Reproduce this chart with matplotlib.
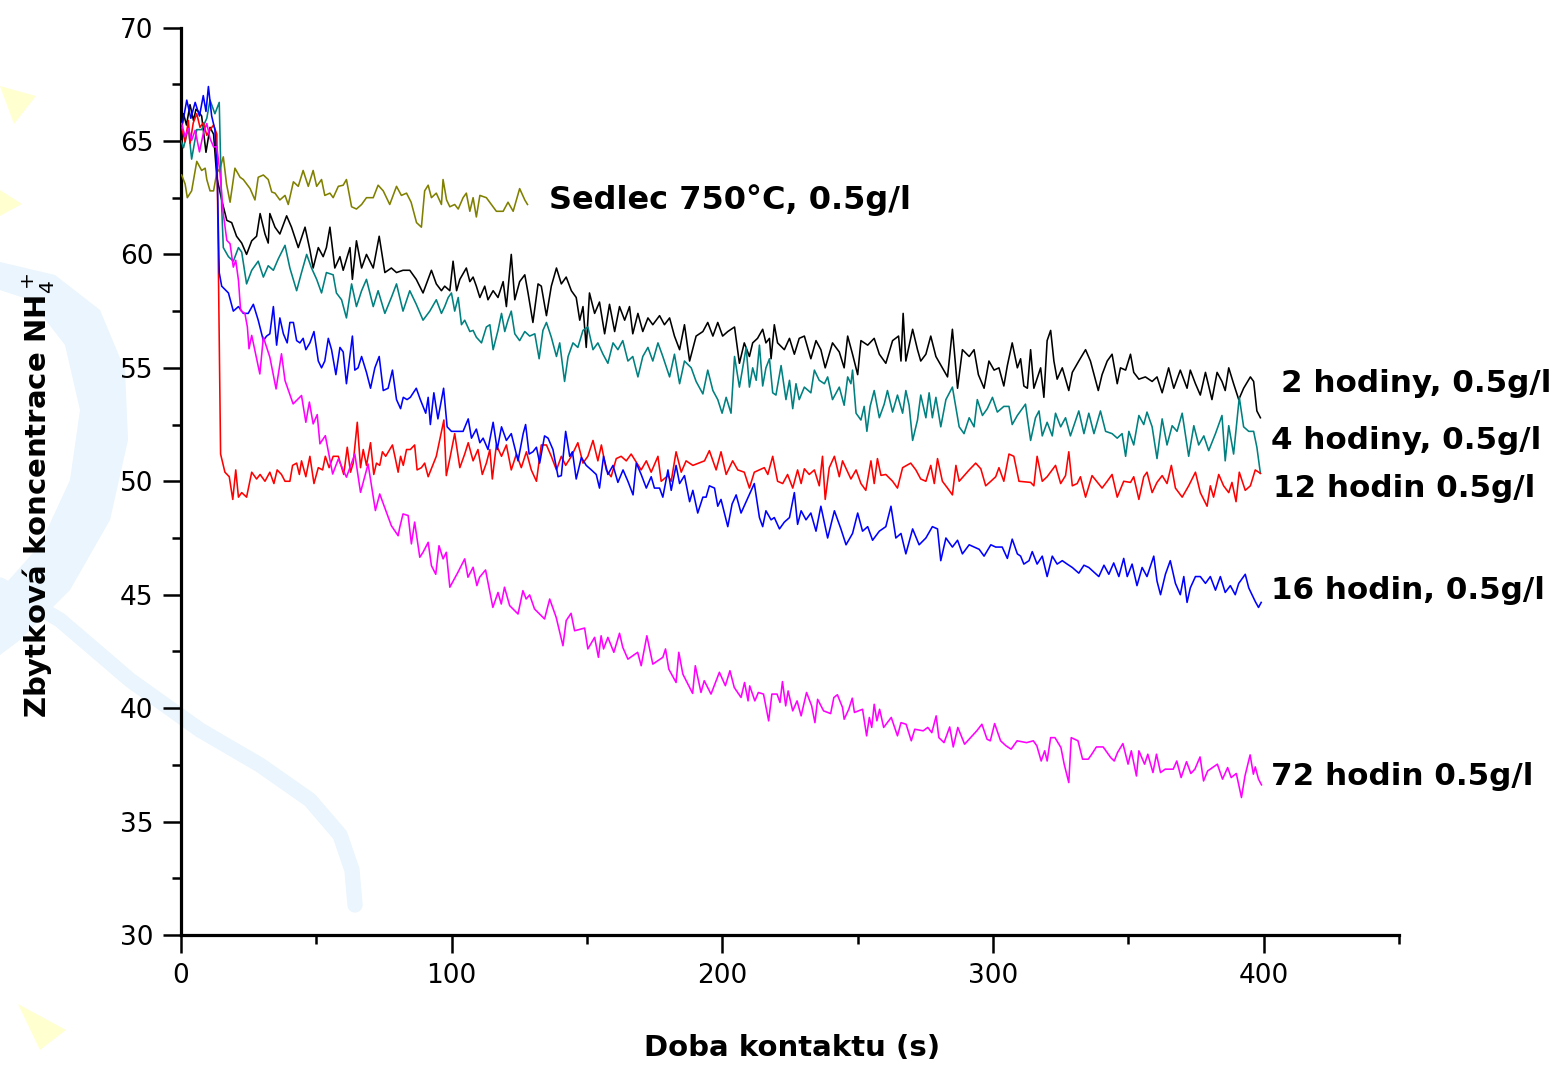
import matplotlib
matplotlib.use("Agg")
import matplotlib.pyplot as plt
from matplotlib.ticker import MultipleLocator
from matplotlib.patches import Polygon
from matplotlib.lines import Line2D

# ---------------- data ----------------
sedlec_x = [0.2, 1.5, 2.3, 3.9, 5.8, 7.6, 8.9, 9.5, 10.7, 12, 13.2, 14.4, 15.6, 16.8, 18.1, 19.9, 21.8, 23,
            25.5, 27.3, 28.5, 30.4, 32.2, 33.5, 34.7, 36.5, 38.4, 39.6, 41.5, 43.3, 45.1, 47, 48.8, 50.1,
            51.9, 53.1, 55, 56.2, 58.1, 59.9, 61.1, 63, 64.8, 66.7, 68.5, 71, 72.8, 74.7, 77.1, 79.6, 81.4,
            83.3, 85, 87, 88.8, 90, 91.3, 92.5, 94.3, 96.2, 96.8, 98.1, 99.3, 101.1, 102.4, 104.2, 105.4,
            106.7, 107.9, 109.1, 110.4, 112.8, 116.5, 119, 120.8, 122.7, 125.1, 127, 128]
sedlec_y = [63.5, 63.1, 62.5, 62.8, 64.1, 63.7, 63.8, 63.3, 62.8, 62.8, 63.6, 63.8, 64.3, 63.1, 62.3, 63.8,
            63.4, 63.3, 62.9, 62.4, 63.4, 63.5, 63.3, 62.75, 62.7, 62.4, 62.6, 62.2, 63.2, 63.0, 63.7, 63.0,
            63.7, 63.0, 63.3, 62.6, 62.7, 62.5, 63.0, 63.05, 63.3, 62.1, 62.0, 62.2, 62.5, 62.5, 63.05, 62.8,
            62.2, 63.0, 62.6, 62.7, 62.3, 61.4, 61.2, 62.8, 63.05, 62.5, 62.7, 62.2, 63.3, 62.4, 62.1, 62.2,
            62.0, 62.5, 62.7, 61.9, 62.5, 61.65, 62.6, 62.5, 61.9, 61.9, 62.3, 61.9, 62.9, 62.4, 62.2]

h2_x = [0, 0.9, 2, 3.3, 4.6, 5.5, 6.4, 7.6, 9.2, 10.7, 12, 13.2, 15, 16.9, 18.7, 20.5, 22.4, 24.2, 26.1,
        27.9, 29.2, 31, 32.2, 32.8, 34.7, 36.5, 39, 40.8, 43.3, 45.8, 47.6, 48.8, 50.7, 52.5, 53.7, 55,
        56.8, 58.7, 59.9, 62.4, 63.3, 64.8, 66.7, 68.5, 71, 73.2, 75.3, 77.7, 79.6, 82, 84.5, 86.9, 89.4,
        92.5, 94.3, 96.2, 97.4, 99.3, 100.5, 101.8, 103, 105.4, 106.7, 107.9, 109.1, 110.4, 112.2, 113.4,
        115.3, 117.1, 119, 120.2, 122, 123.3, 125.1, 127, 128.2, 130, 131.9, 133.1, 135, 136.8, 138.7,
        140.5, 142.3, 144.2, 146, 147.3, 148.5, 149.7, 150.9, 152.8, 154.6, 156.5, 158.3, 160.2, 162,
        163.9, 165.7, 166.9, 168.8, 170.6, 172.5, 174.3, 176.8, 178.6, 180.5, 182.3, 184.2, 186, 187.9,
        190.3, 192.8, 194.6, 196.5, 198.3, 200.1, 202, 204.5, 206.3, 208.1, 210, 211.2, 213, 214.9, 216.1,
        217.4, 218, 219.2, 220.4, 222.9, 224.8, 226.6, 228.4, 230.3, 232.7, 234.6, 236.4, 238, 240.7,
        243.2, 245, 246.3, 248.1, 250, 251.2, 253.7, 256.1, 258, 260.4, 262.9, 265.1, 266, 266.8, 267.8,
        270.3, 272.1, 273.3, 275.2, 277, 278.9, 281.3, 283.2, 285, 286.9, 288.7, 291.2, 293, 294.6, 296.7,
        298.5, 300.4, 302.2, 304, 305.3, 307.1, 309, 310.2, 311.4, 312.7, 313.9, 315.1, 317.6, 318.8, 320,
        321.3, 322.5, 323.7, 325.6, 328, 329.3, 331.7, 334.2, 336, 338.9, 340.3, 342.2, 344, 345.9, 347.1,
        349, 350.8, 352, 353.9, 356.3, 358.8, 360.6, 362.5, 364.9, 366.8, 369.2, 371.7, 372.9, 374.8,
        376.6, 378.5, 380.9, 382.8, 384.6, 385.8, 387.1, 388.9, 390.8, 392.6, 395.1, 396.3, 397.5, 398.8]
h2_y = [65.8, 66.2, 65.7, 66.6, 65.9, 66.4, 66.3, 66.1, 64.5, 65.6, 65.3, 63.4, 62.4, 61.5, 61.4, 60.8,
        60.5, 60.0, 60.6, 60.8, 61.8, 60.9, 60.5, 61.8, 61.2, 60.9, 61.7, 61.2, 60.3, 61.2, 60.2, 59.4,
        60.3, 59.9, 60.3, 61.2, 59.4, 59.9, 59.3, 60.3, 58.9, 60.6, 59.4, 60.0, 59.4, 60.8, 59.2, 59.4,
        59.2, 59.3, 59.3, 58.9, 58.3, 59.3, 58.7, 58.4, 58.6, 58.4, 59.7, 58.4, 58.9, 59.4, 58.8, 59.0,
        58.6, 58.1, 58.6, 58.0, 58.4, 58.1, 58.8, 57.7, 60.0, 58.0, 58.8, 59.1, 58.3, 57.0, 58.7, 58.6,
        57.3, 58.6, 59.4, 58.7, 59.0, 58.4, 58.1, 57.1, 57.7, 55.9, 58.3, 57.4, 57.9, 56.5, 57.8, 56.6,
        57.7, 57.1, 57.7, 56.5, 57.4, 56.6, 57.2, 56.9, 57.3, 56.9, 57.2, 56.4, 55.8, 56.9, 55.3, 56.4,
        56.6, 57.0, 56.4, 57.0, 56.4, 56.6, 56.8, 55.2, 56.1, 55.5, 56.1, 56.3, 56.7, 56.1, 56.3, 55.4,
        56.9, 56.1, 55.8, 56.3, 55.6, 56.3, 56.4, 55.4, 56.2, 55.8, 55.0, 56.1, 55.7, 55.0, 56.4, 55.6,
        54.7, 56.2, 56.0, 56.3, 55.6, 55.2, 56.2, 56.4, 55.3, 57.4, 55.3, 56.7, 55.8, 55.3, 55.6, 56.4,
        55.5, 55.0, 54.6, 56.7, 54.1, 55.8, 55.5, 55.8, 54.7, 54.1, 55.3, 54.9, 55.0, 54.2, 55.1, 56.1,
        55.0, 55.4, 54.2, 54.1, 55.8, 54.1, 55.0, 53.7, 56.2, 56.65, 55.3, 54.5, 55.0, 54.0, 54.8, 55.3,
        55.8, 55.3, 54.0, 54.7, 55.3, 55.6, 54.3, 55.0, 54.9, 55.6, 54.8, 54.5, 54.6, 54.4, 54.6, 53.9,
        55.0, 54.1, 54.9, 54.1, 54.9, 54.3, 53.8, 54.8, 53.6, 54.8, 54.4, 54.0, 55.0, 54.3, 53.6, 54.1,
        54.6, 54.4, 53.1, 52.8]

h4_x = [0, 0.9, 2.7, 3.9, 5.8, 7.6, 9.5, 10.7, 12.5, 14.1, 15, 15.6, 17.5, 19.3, 21.2, 22.4, 24.2, 26.1,
        28.5, 30.4, 32.2, 34.1, 35.9, 38.4, 40.2, 42.7, 44.5, 46.4, 48.2, 50.1, 51.9, 53.7, 56.2, 57.4,
        59.3, 61.1, 63, 64.8, 66.7, 68.5, 71, 72.8, 75.3, 77.7, 79.6, 82, 84.5, 86.9, 89.4, 91.9, 94.3,
        96.2, 97.4, 98.7, 99.9, 101.1, 102.4, 103.6, 104.8, 106.7, 107.9, 109.1, 111, 112.8, 114.1, 115.3,
        117.1, 118.4, 119.6, 120.8, 122, 123.3, 125.1, 127, 128.8, 130.7, 132.3, 133.7, 135, 136.8, 138.7,
        139.9, 141.7, 143, 144.8, 146.6, 148.5, 150.3, 152.2, 154, 155.9, 157.7, 159.6, 161.4, 163.2,
        165.1, 166.9, 168.8, 170.6, 172.5, 174.3, 176.2, 178, 180.5, 182.3, 184.2, 186, 188.5, 190.3,
        192.8, 194.6, 196.5, 198.3, 199.9, 201.4, 203.2, 204.5, 206.3, 207.5, 208.8, 210, 211.2, 212.5,
        213.7, 214.9, 216.1, 217.4, 218.6, 219.8, 221.7, 223.5, 224.8, 226, 227.2, 228.4, 230.3, 232.7,
        234, 235.8, 237.7, 238.9, 240.7, 243.2, 245, 246.3, 247.5, 248.1, 249.4, 251.2, 252.4, 253.4,
        254.6, 256.1, 258, 259.8, 261, 262.9, 264.7, 266.6, 267.8, 269, 270.3, 272.1, 273.3, 275.2, 276.4,
        277.6, 278.9, 280.7, 282.6, 285, 287.5, 289.3, 291.2, 293, 294.2, 296.1, 297.9, 299.8, 301.6, 304,
        305.9, 307.1, 309, 312, 313.9, 315.7, 317, 318.2, 320, 321.9, 323.1, 325, 326.8, 328.6, 331.7,
        333.6, 335.4, 337.3, 339.7, 341.6, 344, 345.9, 347.7, 349, 350.2, 352, 353.9, 355.7, 356.9, 358.8,
        360.6, 362.5, 364.3, 366.2, 368, 369.9, 372.3, 374.2, 376, 377.9, 379.7, 382.2, 384.6, 385.8,
        387.1, 388.9, 391, 392.6, 394.5, 396.3, 397.5, 398.8]
h4_y = [65.0, 64.7, 65.6, 64.2, 65.5, 65.5, 66.0, 66.8, 66.2, 66.7, 62.1, 60.3, 59.9, 59.7, 60.3, 60.1,
        58.7, 59.3, 59.7, 59.0, 59.5, 59.3, 59.8, 60.4, 59.4, 58.4, 59.2, 60.0, 59.4, 58.9, 58.3, 59.2,
        59.1, 58.3, 58.0, 57.2, 58.7, 57.7, 58.4, 58.9, 57.7, 58.4, 57.4, 58.1, 58.7, 57.5, 58.4, 57.8,
        57.1, 57.5, 58.0, 57.4, 57.7, 58.1, 58.3, 57.5, 58.1, 56.9, 57.1, 56.6, 56.65, 56.35, 56.1, 56.8,
        56.9, 55.8, 56.65, 57.4, 56.6, 57.1, 57.5, 56.5, 56.2, 56.6, 56.4, 56.5, 55.4, 56.65, 57.0, 56.35,
        55.5, 56.1, 54.4, 55.5, 56.1, 55.9, 56.65, 56.8, 55.8, 56.1, 55.6, 55.2, 56.1, 55.8, 56.2, 55.3,
        55.5, 54.6, 55.5, 55.9, 55.3, 56.1, 55.5, 54.6, 55.6, 54.3, 55.3, 55.0, 54.4, 53.85, 54.9, 54.0,
        53.6, 53.0, 53.7, 53.0, 55.5, 54.15, 55.0, 55.9, 54.15, 55.0, 54.45, 56.0, 54.2, 55.0, 55.4, 53.9,
        53.8, 55.1, 53.6, 54.45, 53.2, 54.3, 53.6, 54.15, 53.9, 54.9, 54.45, 54.3, 54.6, 53.6, 54.15,
        53.35, 54.6, 54.3, 54.9, 53.0, 52.7, 53.3, 52.2, 53.3, 54.0, 52.8, 53.4, 54.0, 53.05, 53.8, 53.0,
        54.0, 53.35, 51.8, 52.7, 53.8, 52.8, 53.9, 52.8, 53.7, 52.4, 53.6, 54.15, 52.4, 52.1, 52.8, 52.4,
        53.6, 52.9, 53.2, 53.7, 53.05, 53.3, 53.3, 52.5, 52.9, 53.4, 51.8, 52.8, 53.1, 52.0, 52.6, 52.0,
        53.0, 52.4, 52.8, 52.0, 53.1, 52.1, 53.0, 52.1, 53.1, 52.2, 52.1, 51.9, 52.1, 51.1, 52.2, 51.6,
        52.9, 52.5, 53.05, 52.4, 51.0, 52.75, 51.6, 52.45, 52.2, 53.0, 51.1, 52.45, 51.6, 52.0, 51.35,
        52.1, 52.9, 50.9, 52.45, 51.2, 53.7, 52.4, 52.2, 52.2, 51.5, 50.35]

h12_x = [0.2, 1.5, 2.7, 3.3, 4.5, 5.8, 7, 8.2, 9.5, 10.7, 12, 13.2, 14.0, 14.6, 16.2, 17.8, 19.1, 20.2,
         21.2, 22.4, 24.2, 26.1, 27.9, 29.2, 31, 32.8, 34.3, 35.5, 37.1, 38.4, 40.2, 41.2, 42.7, 43.7,
         44.5, 46.1, 47.6, 49.1, 50.7, 52.3, 53.3, 54.7, 56.2, 58.1, 60.1, 61.4, 62.6, 63.6, 65.1, 66.3,
         67.3, 68.5, 70, 71.2, 72.2, 73.4, 74.4, 75.6, 78.1, 79, 80.2, 81.1, 82.1, 83.3, 84.7, 86.3, 87.2,
         88.8, 90, 91.3, 94.3, 97.1, 98, 99.3, 101.1, 103, 104.8, 106.1, 107.9, 109.7, 111.3, 112.8, 114.1,
         115, 116.5, 118.4, 120.2, 122, 123.9, 125.7, 127.6, 129.4, 131.3, 133.1, 135, 136.8, 138.7, 140.5,
         142.1, 144.2, 146.6, 148.5, 150.3, 152.2, 154, 155.3, 157.1, 158.9, 160.8, 162.6, 164.5, 166.3,
         170, 171.9, 173.7, 176.2, 177.4, 179.9, 181.1, 182.9, 184.8, 186.6, 189.1, 193.4, 195.2, 197.7,
         199.5, 201.4, 203.8, 205.7, 208.1, 210, 211.8, 213.7, 215.5, 216.8, 218.6, 220.4, 222.3, 224.1,
         226, 227.8, 229.1, 230.3, 232.1, 234, 235.8, 237, 238, 239.5, 241.4, 243.2, 244.4, 247.5, 249.4,
         251.2, 253, 254.9, 256.1, 257.3, 258.6, 260.4, 262.9, 264.7, 266.6, 269.6, 271.5, 273.3, 275.2,
         277, 278.3, 279.5, 281.3, 283.2, 285, 286.3, 287.5, 291.2, 293.6, 295.5, 297.3, 299.2, 301, 302.2,
         304, 305.9, 307.7, 309.6, 313.9, 315.1, 316.3, 318.2, 320, 323.1, 325, 326.8, 328, 329.3, 331.1,
         332.3, 334.2, 336.6, 340.3, 342.2, 344, 345.9, 348.3, 350.8, 352, 353.9, 355.7, 356.9, 358.8,
         360.6, 362.5, 364.3, 365.9, 367.4, 369.9, 372.3, 374.8, 376.6, 379.1, 380.3, 381.5, 383.4, 385.2,
         387.1, 388.3, 389.8, 391, 393.2, 395.1, 396.9, 398.8]
h12_y = [65.6, 64.96, 65.9, 64.9, 65.8, 66.2, 65.6, 65.8, 65.25, 65.5, 65.7, 65.3, 57.0, 51.2, 50.4, 50.2,
         49.2, 50.5, 49.3, 49.5, 49.3, 50.4, 50.1, 50.3, 50.0, 50.4, 49.9, 50.5, 50.3, 50.0, 50.0, 50.7,
         50.8, 50.3, 50.9, 50.2, 51.1, 49.9, 50.6, 50.5, 51.1, 50.6, 51.1, 51.1, 50.3, 51.5, 50.4, 50.8,
         52.6, 50.6, 51.4, 50.7, 51.7, 50.3, 50.8, 50.7, 51.3, 51.1, 51.6, 51.1, 50.4, 51.1, 50.7, 51.4,
         51.4, 51.6, 50.5, 50.6, 50.8, 50.2, 51.1, 52.7, 50.25, 51.0, 52.1, 50.6, 51.2, 51.7, 50.9, 51.4,
         50.3, 50.8, 51.4, 50.1, 51.6, 51.1, 51.6, 50.5, 51.2, 50.6, 51.3, 50.5, 50.0, 51.6, 51.6, 51.1,
         50.5, 51.1, 50.7, 51.1, 51.7, 50.8, 51.1, 51.8, 50.9, 51.6, 50.5, 50.2, 51.0, 51.1, 50.9, 51.2,
         50.5, 50.9, 50.4, 51.1, 50.0, 50.25, 50.0, 51.3, 50.4, 50.9, 50.7, 50.9, 51.35, 50.5, 51.3, 50.3,
         50.9, 50.5, 50.4, 49.7, 50.4, 50.5, 50.6, 50.3, 51.1, 50.0, 49.9, 50.3, 49.7, 50.5, 49.9, 50.55,
         50.3, 50.5, 49.8, 51.1, 49.2, 50.6, 51.1, 50.2, 50.9, 50.1, 50.5, 49.9, 49.6, 50.9, 49.9, 51.0,
         50.26, 50.3, 50.0, 49.7, 50.6, 50.8, 50.5, 50.1, 50.0, 50.7, 49.9, 51.0, 50.0, 49.7, 49.4, 50.7,
         50.0, 50.5, 50.8, 50.55, 49.8, 50.0, 50.2, 50.6, 50.0, 51.2, 51.1, 50.0, 49.95, 49.8, 51.1, 50.0,
         50.2, 50.7, 49.9, 50.25, 51.3, 49.8, 49.9, 50.2, 49.3, 50.25, 49.7, 50.0, 50.3, 49.3, 50.0, 49.95,
         50.2, 49.2, 50.2, 50.4, 49.5, 49.95, 50.25, 49.9, 50.7, 49.7, 49.3, 49.8, 50.4, 49.5, 48.9, 49.8,
         49.3, 50.3, 49.8, 49.5, 49.95, 49.1, 50.4, 49.6, 49.8, 50.5, 50.35]

h16_x = [0.6, 2.1, 3.6, 5.2, 6.8, 8.2, 9.2, 10.1, 11.3, 12.5, 13.4, 14.1, 15, 17.5, 19.3, 21.2, 23, 24.8,
         26.7, 28.5, 30.4, 31.6, 32.8, 34.1, 35.3, 36.5, 37.8, 39.2, 40.2, 41.5, 42.7, 43.9, 45.1, 46.1,
         47.6, 49.1, 50.7, 51.9, 53.1, 54.4, 55.6, 57.2, 58.7, 59.9, 61.1, 63.3, 64.2, 65.4, 66.7, 68.5,
         70, 71.6, 73.2, 74.7, 76.5, 78.1, 79.6, 81.1, 82.1, 83.5, 84.7, 86.9, 88.4, 90.4, 91.3, 92.1, 93.4,
         94.9, 97.0, 98.3, 99.9, 101.8, 104.2, 106.1, 107.3, 109.1, 110.4, 111.6, 113.4, 115.3, 116.8,
         118.4, 120.2, 122, 124.5, 126.4, 127.3, 128.6, 130, 131.3, 132.5, 134.3, 135.6, 137.4, 139.3,
         140.5, 142.1, 143.6, 144.6, 146, 147.9, 149.7, 151.6, 153.4, 154.6, 156.1, 157.7, 159.6, 161.4,
         163.3, 165.1, 167, 168.2, 170, 171.9, 173.7, 174.9, 176.8, 178, 179.9, 181.1, 182.9, 184.2, 186,
         187.9, 189.1, 190.9, 192.8, 194, 195.2, 197.1, 198.3, 199.5, 202, 203.6, 205.1, 206.9, 208.8,
         211.8, 213.7, 214.9, 216.1, 218, 219.2, 221.1, 222.9, 224.8, 226.6, 227.8, 229.1, 230.9, 232.7,
         234.6, 236.4, 238.9, 241.4, 243.8, 245.7, 248.1, 250, 251.8, 253.7, 255.5, 258, 260.4, 262.3,
         264.1, 266, 267.8, 270.3, 272.7, 275.2, 277.6, 279.5, 280.7, 282.6, 285, 286.9, 288.7, 291.2,
         294.9, 296.7, 299.2, 301, 303.4, 305.3, 307.1, 309, 310.2, 311.4, 313.3, 314.5, 316.3, 318.2, 320,
         321.9, 323.7, 325.6, 327.4, 329.3, 331.7, 333.6, 335.4, 339.1, 341, 342.8, 344.6, 346.5, 348.3,
         349.6, 351.4, 353.2, 355.1, 356.9, 359.4, 360.6, 361.9, 363.7, 365.5, 367.4, 369.2, 370.5, 371.7,
         372.9, 374.8, 376.6, 378.5, 380.3, 382.2, 384, 385.8, 387.7, 389.5, 390.8, 393.2, 394.5, 395.7,
         396.9, 398.1, 399.1]
h16_y = [65.8, 66.8, 66.0, 66.7, 66.1, 67.0, 66.3, 67.4, 66.1, 65.5, 63.3, 59.2, 58.6, 58.3, 57.5, 57.7,
         57.4, 57.4, 57.8, 57.1, 56.2, 56.4, 56.5, 57.7, 56.0, 57.2, 56.5, 56.1, 57.0, 57.0, 56.2, 56.1,
         56.3, 55.8, 56.1, 56.6, 55.3, 55.0, 55.3, 56.3, 55.8, 54.7, 55.9, 55.7, 54.3, 56.4, 54.9, 55.0,
         55.5, 54.8, 54.1, 55.0, 55.5, 54.0, 54.1, 54.9, 53.6, 53.2, 53.7, 53.6, 53.7, 54.1, 53.6, 53.0,
         53.7, 52.5, 53.9, 52.75, 54.1, 52.4, 52.2, 52.2, 52.2, 52.75, 51.9, 52.3, 51.7, 51.9, 51.4, 52.6,
         51.4, 52.4, 51.8, 52.1, 50.9, 52.1, 52.5, 51.2, 51.3, 51.5, 50.8, 52.0, 51.9, 51.4, 50.2, 50.25,
         52.2, 51.1, 51.3, 50.1, 51.05, 50.7, 50.5, 50.3, 49.7, 51.1, 50.3, 50.7, 49.95, 50.5, 50.0, 49.4,
         50.8, 50.3, 49.7, 50.2, 49.7, 49.7, 49.3, 50.5, 49.6, 50.7, 49.9, 50.25, 49.1, 49.6, 48.6, 49.3,
         49.3, 49.8, 49.7, 48.9, 49.2, 48.0, 49.0, 49.4, 48.6, 49.1, 49.9, 48.4, 48.0, 48.7, 48.3, 48.4,
         47.9, 48.2, 48.4, 49.5, 48.1, 48.7, 48.3, 48.6, 47.8, 48.9, 47.5, 48.7, 47.9, 47.2, 47.7, 48.6,
         47.8, 48.0, 47.4, 47.8, 48.0, 48.9, 47.5, 47.7, 46.8, 47.9, 47.2, 47.5, 48.0, 47.9, 46.5, 47.5,
         47.1, 47.4, 46.8, 47.2, 47.0, 46.7, 47.2, 47.1, 47.1, 46.6, 47.45, 46.8, 46.7, 46.35, 46.5, 46.9,
         46.35, 46.7, 45.8, 46.7, 46.35, 46.5, 46.35, 46.2, 45.95, 46.3, 46.2, 45.8, 46.3, 45.9, 46.4, 45.8,
         46.6, 45.8, 46.35, 45.4, 46.2, 45.8, 46.7, 45.6, 45.0, 45.9, 46.5, 45.5, 45.0, 45.8, 44.66, 45.3,
         45.8, 45.8, 45.5, 45.8, 45.2, 45.8, 45.1, 45.4, 45.0, 45.5, 45.9, 45.3, 45.0, 44.7, 44.44, 44.66]

h72_x = [0.2, 1.5, 2.7, 3.9, 5.2, 6.8, 8.2, 9.5, 10.7, 12, 13.2, 14.4, 15.6, 16.9, 18.1, 19.3, 20.2, 21.2,
         22, 23.6, 24.5, 25.1, 26.1, 29.1, 30.4, 32.8, 35.1, 37.1, 38.4, 41.4, 44.5, 46.1, 47.4, 48.8, 50.3,
         51.3, 53.3, 56, 58.1, 61.1, 64.2, 66.3, 69.1, 71.8, 73.4, 77.7, 80.2, 80.8, 82.0, 83.9, 85.1, 86.3,
         88.2, 89.4, 91.3, 92.5, 94.1, 95.3, 96.8, 98.0, 99.3, 102.3, 104.8, 106, 107.9, 109.3, 110.3,
         112.5, 115.2, 117.1, 118.3, 119.5, 121.4, 124.5, 126.3, 127.5, 128.8, 130.6, 134.3, 136.2, 138.6,
         141.1, 142.3, 144.1, 145.4, 149.1, 150.3, 152.8, 154.2, 155.2, 156.1, 157.7, 159.9, 162, 163.2,
         165.1, 168.7, 170, 172.1, 174.3, 178, 179, 180.2, 182.9, 183.9, 185.4, 189, 190, 192.1, 193.3,
         195.8, 198.9, 201.1, 202.8, 204.4, 206.9, 208.2, 209.5, 210.1, 212, 213.3, 215.2, 217.1, 218.3,
         220.2, 221.3, 222.2, 223.4, 224.3, 226, 227.6, 229.1, 231.1, 233, 234.2, 235.2, 237.4, 240, 241.2,
         242.5, 244.4, 245, 246.7, 248, 248.8, 251.8, 253.3, 254.3, 255.2, 256.1, 257.1, 258.1, 259.6,
         262.4, 264.7, 266, 267.9, 269.8, 271.1, 274.2, 275.9, 277.4, 279, 280, 281.9, 284, 285.3, 287,
         289.5, 294, 295.9, 297.8, 299, 300.6, 302.8, 304.8, 306.7, 308.9, 312.4, 314.9, 316.2, 317.8,
         319.1, 320, 321.3, 322.9, 325.1, 326.3, 328, 328.9, 331.4, 333.1, 335.2, 336.5, 338.2, 340.7,
         343.5, 344.8, 346.0, 348, 349.9, 351.1, 353.0, 353.9, 356, 357.2, 359.1, 360.4, 361.9, 363.6,
         366.6, 367.9, 369.5, 371.5, 373.1, 374.6, 376.5, 377.8, 379.3, 382.9, 384.8, 386.7, 388, 389.9,
         391.8, 393.1, 395, 396.2, 396.9, 398.1, 399.2]
h72_y = [65.77, 65.18, 65.55, 65.03, 65.47, 64.52, 65.33, 65.77, 65.11, 64.74, 64.74, 63.56, 61.8, 60.62,
         60.47, 59.44, 59.74, 58.86, 57.53, 57.39, 56.8, 55.84, 56.43, 54.73, 56.35, 55.47, 54.07, 55.62,
         54.44, 53.41, 53.78, 52.6, 53.49, 52.53, 52.94, 51.65, 52.01, 50.32, 50.98, 50.18, 51.2, 49.51,
         50.76, 48.71, 49.44, 48.04, 47.6, 47.97, 48.56, 48.49, 47.24, 48.2, 46.65, 46.87, 47.31, 46.28,
         45.9, 47.16, 46.58, 46.87, 45.33, 45.99, 46.58, 45.77, 46.21, 45.4, 45.77, 46.09, 44.44, 45.1,
         44.59, 45.33, 44.52, 44.15, 45.18, 44.81, 44.99, 44.37, 43.93, 44.81, 44.0, 42.75, 43.86, 44.18,
         43.41, 43.53, 42.61, 43.12, 42.24, 43.19, 42.61, 43.12, 42.46, 43.3, 42.68, 42.16, 42.46, 41.87,
         43.19, 41.94, 42.24, 42.61, 41.72, 41.13, 42.46, 41.5, 40.65, 41.87, 40.69, 41.21, 40.62, 41.58,
         40.99, 41.65, 40.91, 40.47, 41.13, 40.32, 40.98, 40.32, 40.69, 40.62, 39.44, 40.62, 40.62, 40.25,
         41.17, 40.1, 40.76, 39.88, 40.32, 39.66, 40.69, 40.1, 39.36, 40.39, 39.88, 39.76, 40.47, 40.59,
         40.03, 39.51, 39.95, 40.44, 39.81, 39.95, 38.78, 39.59, 39.15, 40.17, 39.44, 39.95, 39.15, 39.59,
         38.78, 39.36, 39.29, 38.56, 39.07, 39.0, 39.15, 38.92, 39.66, 38.7, 38.48, 39.17, 38.29, 39.15,
         38.41, 39.0, 39.29, 38.63, 38.56, 39.32, 38.56, 38.34, 38.19, 38.56, 38.48, 38.56, 38.34, 37.67,
         38.12, 37.67, 38.7, 38.7, 38.26, 37.53, 36.72, 38.7, 38.56, 37.75, 37.75, 37.97, 38.29, 38.29,
         37.82, 37.67, 38.04, 38.44, 37.53, 38.12, 37.01, 38.12, 37.53, 37.97, 37.16, 37.97, 37.16, 37.31,
         37.31, 37.67, 36.94, 37.64, 37.12, 37.31, 37.85, 36.79, 37.23, 37.53, 36.87, 37.38, 36.94, 37.12,
         36.06, 37.01, 37.94, 37.09, 37.41, 36.87, 36.62]

labels = ["Sedlec 750°C, 0.5g/l", "2 hodiny, 0.5g/l", "4 hodiny, 0.5g/l",
          "12 hodin 0.5g/l", "16 hodin, 0.5g/l", "72 hodin 0.5g/l"]
colors = ["#808000", "#000000", "#008080", "#ff0000", "#0000ff", "#ff00ff"]
label_pos = [(136.0, 62.4), (406.5, 54.3), (402.8, 51.8), (403.5, 49.7), (402.8, 45.2), (402.8, 37.0)]
label_size = [23, 22.3, 22.3, 22.3, 22.3, 22.3]

xs_all = [sedlec_x, h2_x, h4_x, h12_x, h16_x, h72_x]
ys_all = [sedlec_y, h2_y, h4_y, h12_y, h16_y, h72_y]

W, H = 1557.0, 1067.0

# ---------------- figure ----------------
fig = plt.figure(figsize=(15.57, 10.67), dpi=100)

# faint slide background decoration (light swirl + yellow triangles)
def px(points):
    return [(x / W, 1 - y / H) for x, y in points]

deco_blue = "#eaf5fd"
fig.add_artist(Polygon(px([(0, 262), (55, 275), (100, 310), (125, 370), (128, 440), (110, 520),
                           (70, 590), (20, 640), (0, 655), (0, 590), (40, 545), (70, 480),
                           (80, 410), (65, 345), (30, 300), (0, 290)]),
                       closed=True, transform=fig.transFigure, facecolor=deco_blue,
                       edgecolor="none", zorder=0))
band = px([(0, 585), (60, 620), (130, 680), (200, 730), (260, 765), (310, 800), (340, 835),
           (352, 870), (355, 905)])
fig.add_artist(Line2D([p[0] for p in band], [p[1] for p in band], transform=fig.transFigure,
                      color=deco_blue, lw=11, solid_capstyle="round", zorder=0))
deco_yellow = "#ffffd0"
for tri in [[(0, 86), (36, 96), (14, 124)], [(0, 190), (22, 204), (0, 216)],
            [(18, 1004), (66, 1030), (40, 1050)]]:
    fig.add_artist(Polygon(px(tri), closed=True, transform=fig.transFigure,
                           facecolor=deco_yellow, edgecolor="none", zorder=0))

ax = fig.add_axes([0.1163, 0.1237, 0.7822, 0.8505])
ax.set_facecolor("none")
ax.set_xlim(0, 450)
ax.set_ylim(30, 70)

for xs, ys, c in zip(xs_all, ys_all, colors):
    ax.plot(xs, ys, color=c, lw=1.15, zorder=3)

for (lx, ly), txt, fs in zip(label_pos, labels, label_size):
    ax.text(lx, ly, txt, fontsize=fs, fontweight="bold", color="black",
            ha="left", va="center", clip_on=False)

for s in ["top", "right"]:
    ax.spines[s].set_visible(False)
for s in ["left", "bottom"]:
    ax.spines[s].set_linewidth(2.3)

ax.xaxis.set_major_locator(MultipleLocator(100))
ax.xaxis.set_minor_locator(MultipleLocator(50))
ax.yaxis.set_major_locator(MultipleLocator(5))
ax.yaxis.set_minor_locator(MultipleLocator(2.5))
ax.tick_params(which="major", length=13, width=1.8, direction="out", labelsize=19, pad=7)
ax.tick_params(which="minor", length=6.5, width=1.8, direction="out")

fig.text(792 / W, 1 - 1048 / H, "Doba kontaktu (s)", fontsize=21, fontweight="bold",
         ha="center", va="center")
fig.text(38 / W, 1 - 495 / H, r"Zbytková koncentrace NH$_4^+$", fontsize=21,
         fontweight="bold", rotation=90, ha="center", va="center")

fig.savefig("out.png", dpi=100)
